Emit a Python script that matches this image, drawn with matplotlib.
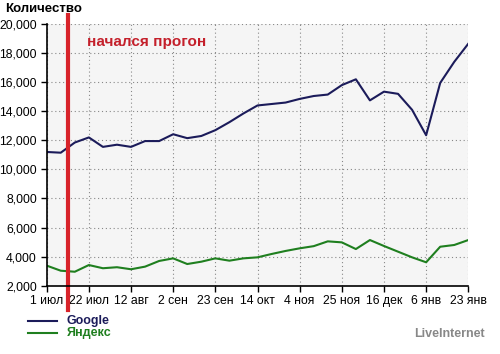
import matplotlib
matplotlib.use("Agg")
import matplotlib.pyplot as plt
from matplotlib.lines import Line2D

plt.rcParams['font.family'] = ['Liberation Sans', 'DejaVu Sans']

# weekly points, 1 июл .. 23 янв
weeks = list(range(31))
google = [11200, 11150, 11850, 12200, 11550, 11700, 11550, 11950, 11950, 12420,
          12150, 12300, 12700, 13250, 13850, 14400, 14500, 14600, 14850, 15050,
          15150, 15800, 16200, 14750, 15350, 15200, 14100, 12350, 15950, 17400,
          18650]
yandex = [3380, 3030, 2960, 3420, 3200, 3270, 3130, 3310, 3700, 3880,
          3490, 3650, 3880, 3720, 3880, 3950, 4180, 4390, 4570, 4720,
          5050, 4980, 4520, 5140, 4730, 4340, 3950, 3610, 4680, 4800,
          5140]
tick_pos = [0, 3, 6, 9, 12, 15, 18, 21, 24, 27, 30]
tick_labels = ["1 июл", "22 июл", "12 авг", "2 сен", "23 сен", "14 окт",
               "4 ноя", "25 ноя", "16 дек", "6 янв", "23 янв"]
yticks = list(range(2000, 20001, 2000))
start_week = 1.55  # "начался прогон"

google_color = '#1b1b5a'
yandex_color = '#1f7f1f'
red = '#d8232a'

fig = plt.figure(figsize=(5.0, 3.54), dpi=100)
ax = fig.add_axes([0.0934, 0.193, 0.8432, 0.739])
ax.set_facecolor('#f5f5f5')

ax.plot(weeks, google, color=google_color, lw=1.5)
ax.plot(weeks, yandex, color=yandex_color, lw=1.5)

ax.set_xlim(0, 30)
ax.set_ylim(2000, 20000)
ax.set_xticks(tick_pos)
ax.set_xticklabels(tick_labels)
ax.set_yticks(yticks)
ax.set_yticklabels([f"{v:,}" for v in yticks])
ax.tick_params(labelsize=8.8, length=4, width=1, color='black', pad=3)
ax.grid(True, linestyle=(0, (1, 2.5)), color='#888888', lw=0.8)
for s in ['top', 'right']:
    ax.spines[s].set_visible(False)
for s in ['left', 'bottom']:
    ax.spines[s].set_linewidth(1.2)

# red marker line, reaching outside the axes
ax.axvline(start_week, ymin=-0.093, ymax=1.034, color=red, lw=3, clip_on=False)
ax.text(2.9, 18750, "начался прогон", color='#c4202b', fontsize=11,
        fontweight='bold', va='center')

fig.text(0.01, 0.975, "Количество", fontsize=9.5, fontweight='bold', va='center')

# legend
fig.add_artist(Line2D([0.056, 0.114], [0.094, 0.094], color=google_color, lw=1.5))
fig.add_artist(Line2D([0.056, 0.114], [0.060, 0.060], color=yandex_color, lw=1.5))
fig.text(0.133, 0.094, "Google", color=google_color, fontsize=9,
         fontweight='bold', va='center')
fig.text(0.133, 0.060, "Яндекс", color=yandex_color, fontsize=9,
         fontweight='bold', va='center')
fig.text(0.97, 0.057, "LiveInternet", color='#888888', fontsize=9,
         fontweight='bold', va='center', ha='right')

fig.savefig("out.png", dpi=100)
